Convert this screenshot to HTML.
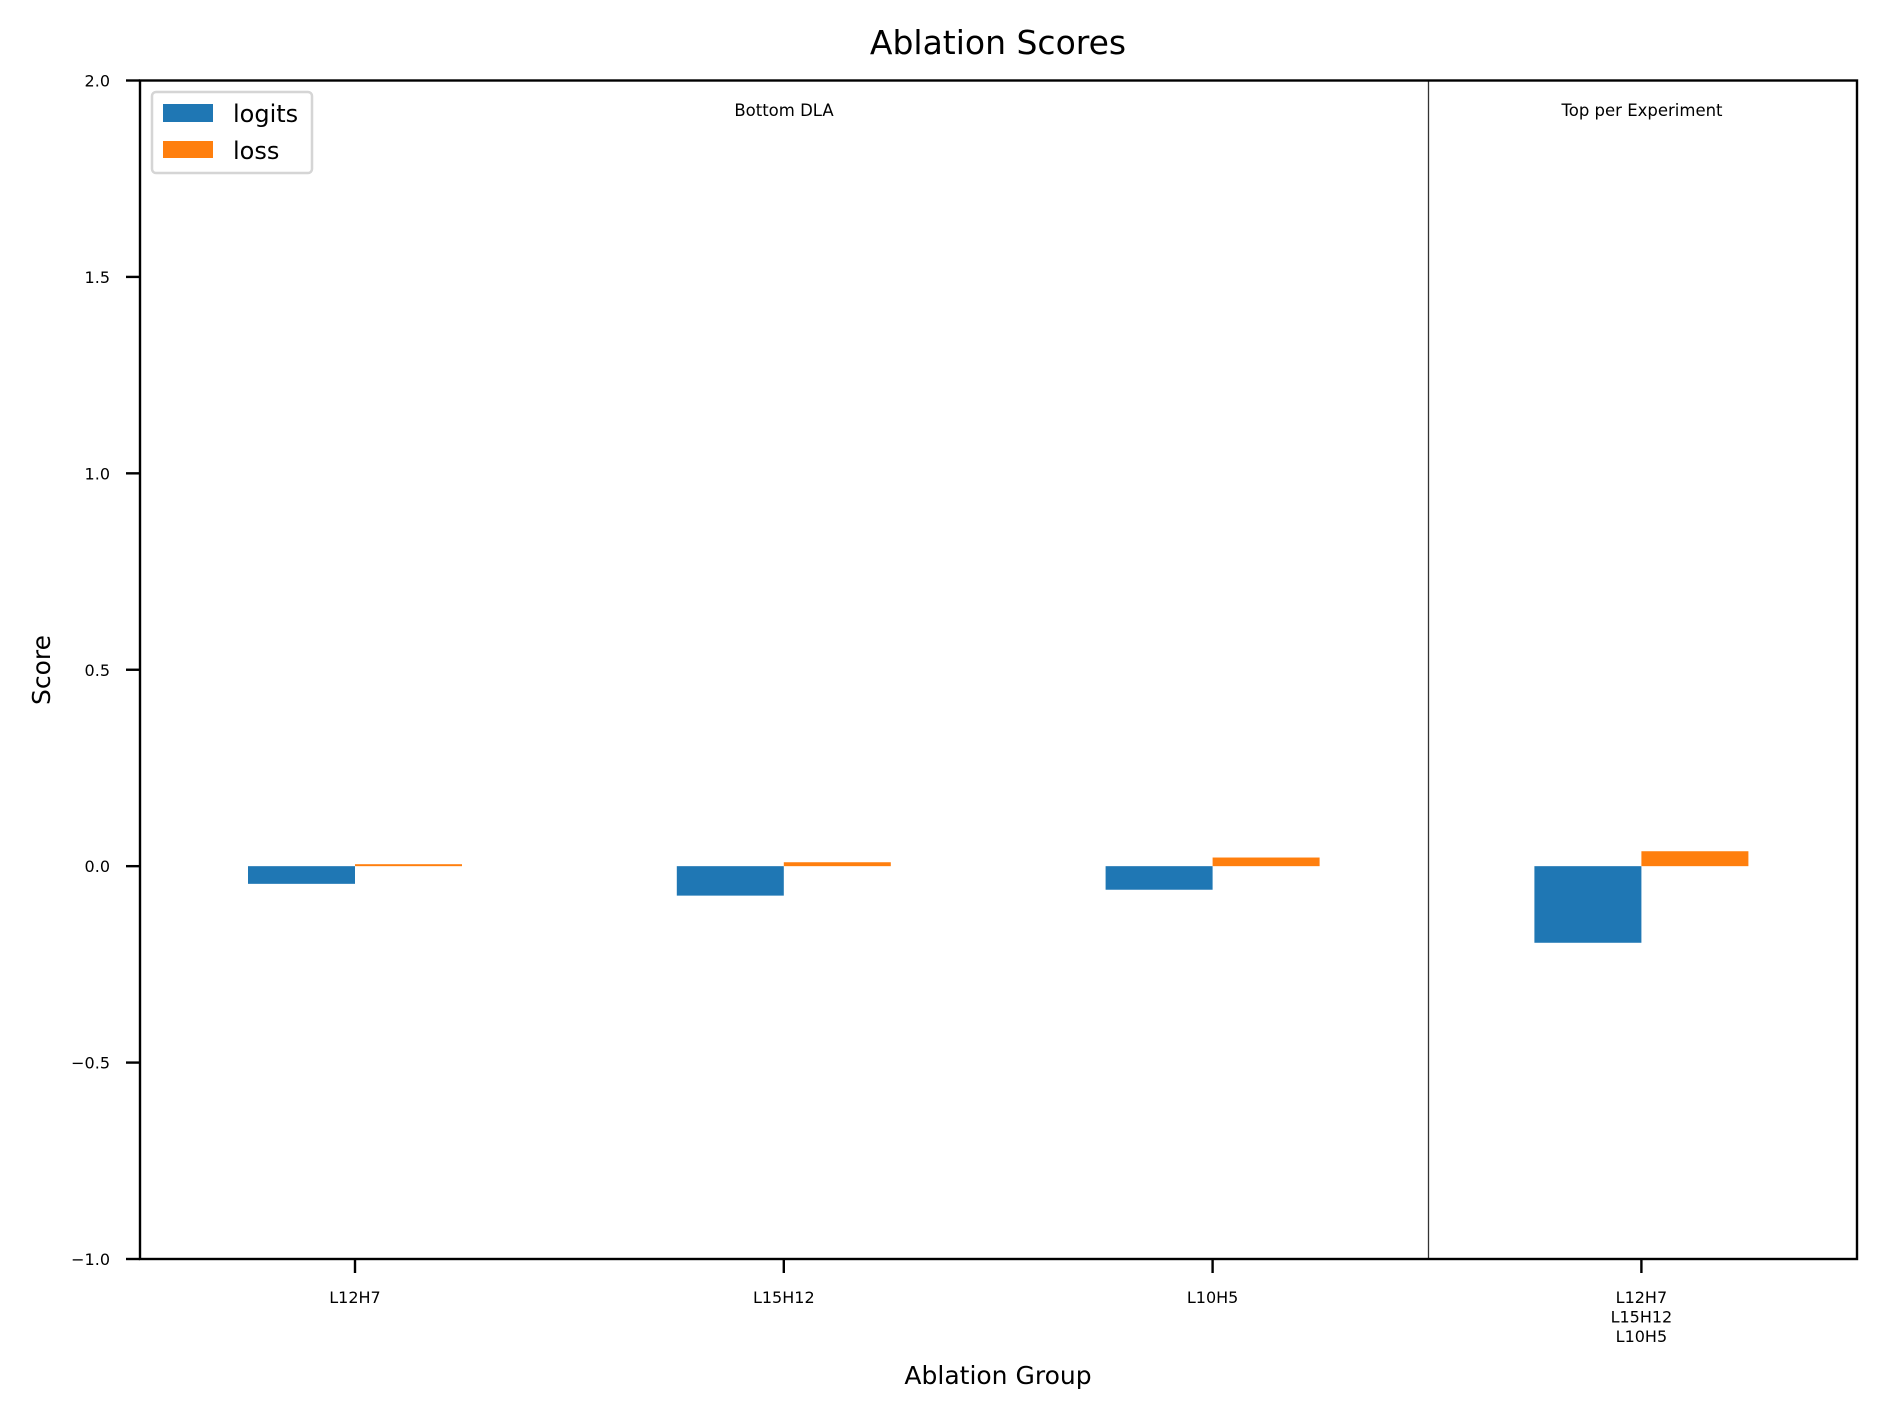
<!DOCTYPE html>
<html><head><meta charset="utf-8"><style>
html,body{margin:0;padding:0;background:#fff;}
svg{display:block;font-family:"DejaVu Sans","Liberation Sans",sans-serif;}
</style></head><body>
<svg id="chart" width="1887" height="1418" viewBox="0 0 1887 1418">
<rect x="0" y="0" width="1887" height="1418" fill="#fff"/>
<text x="998" y="54" text-anchor="middle" font-size="33" fill="#000">Ablation Scores</text>
<g id="bars"></g>
<g id="yticks"></g>
<g id="xticks"></g>
<line x1="1428.5" y1="80.5" x2="1428.5" y2="1259" stroke="#333" stroke-width="1.3"/>
<text x="784" y="116" text-anchor="middle" font-size="16.5">Bottom DLA</text>
<text x="1642" y="116" text-anchor="middle" font-size="16.5">Top per Experiment</text>
<rect x="140" y="80.5" width="1717" height="1178.5" fill="none" stroke="#000" stroke-width="2.4"/>
<text x="998" y="1384" text-anchor="middle" font-size="25">Ablation Group</text>
<text transform="translate(50,670) rotate(-90)" text-anchor="middle" font-size="25">Score</text>
<g>
<rect x="152" y="92" width="160" height="81" rx="4" fill="#fff" fill-opacity="0.8" stroke="#d5d5d5" stroke-width="2.5"/>
<rect x="163" y="104" width="50" height="18" fill="#1f77b4"/>
<text x="233" y="122" font-size="24">logits</text>
<rect x="163" y="141" width="50" height="17" fill="#ff7f0e"/>
<text x="233" y="159" font-size="24">loss</text>
</g>
</svg>
<script>
const categories = [["L12H7"], ["L15H12"], ["L10H5"], ["L12H7", "L15H12", "L10H5"]];
const logitsValues = [-0.045, -0.075, -0.06, -0.195];
const lossValues = [0.005, 0.01, 0.022, 0.038];
const yTickValues = [-1.0, -0.5, 0.0, 0.5, 1.0, 1.5, 2.0];
const yTickLabels = ["\u22121.0", "\u22120.5", "0.0", "0.5", "1.0", "1.5", "2.0"];

const NS = "http://www.w3.org/2000/svg";
const plotLeft = 140, plotRight = 1857, plotTop = 80.5, plotBottom = 1259;
const yMin = -1, yMax = 2;
function yScale(v) { return plotBottom - (v - yMin) / (yMax - yMin) * (plotBottom - plotTop); }
const firstX = 355, stepX = 428.8;
function xScale(i) { return firstX + i * stepX; }
const barW = 107;

function mk(tag, attrs, parent) {
  const el = document.createElementNS(NS, tag);
  for (const k in attrs) el.setAttribute(k, attrs[k]);
  parent.appendChild(el);
  return el;
}
const bars = document.getElementById('bars');
const y0 = yScale(0);
logitsValues.forEach((v, i) => {
  const y = yScale(v);
  const r = mk('rect', {x: xScale(i) - barW, y: Math.min(y, y0), width: barW, height: Math.max(Math.abs(y - y0), 0.5), fill: '#1f77b4'}, bars);
  
  
});
lossValues.forEach((v, i) => {
  const y = yScale(v);
  const r = mk('rect', {x: xScale(i), y: Math.min(y, y0), width: barW, height: Math.max(Math.abs(y - y0), 0.5), fill: '#ff7f0e'}, bars);
  
  
});
const yt = document.getElementById('yticks');
yTickValues.forEach((v, i) => {
  const y = yScale(v);
  const l = mk('line', {x1: plotLeft - 14, x2: plotLeft, y1: y, y2: y, stroke: '#000', 'stroke-width': 2.4}, yt);
  
  
  const t = mk('text', {x: 110, y: y + 6, 'text-anchor': 'end', 'font-size': 16}, yt);
  t.textContent = yTickLabels[i];
  
  
});
const xt = document.getElementById('xticks');
categories.forEach((lines, i) => {
  const x = xScale(i);
  const l = mk('line', {x1: x, x2: x, y1: plotBottom, y2: plotBottom + 14, stroke: '#000', 'stroke-width': 2.4}, xt);
  
  
  lines.forEach((s, j) => {
    const t = mk('text', {x: x, y: 1303 + j * 19.5, 'text-anchor': 'middle', 'font-size': 16}, xt);
    t.textContent = s;
    
    
  });
});
</script>
</body></html>
